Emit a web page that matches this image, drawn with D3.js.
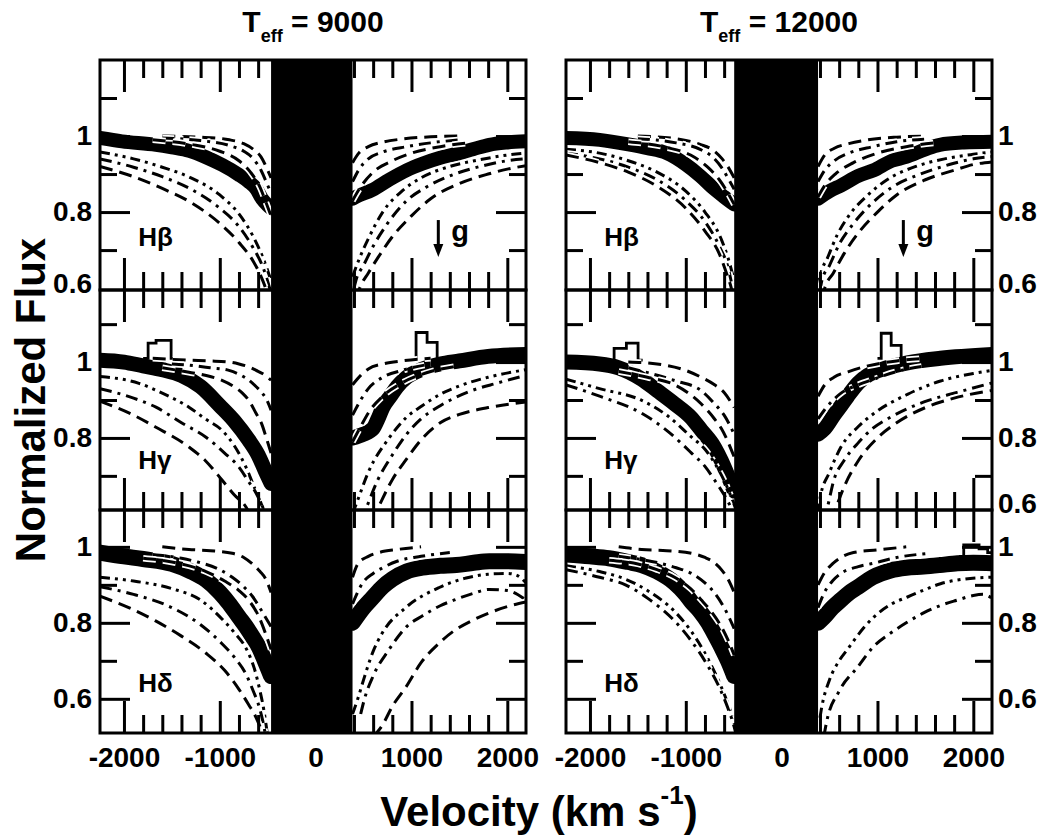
<!DOCTYPE html>
<html>
<head>
<meta charset="utf-8">
<script src="https://cdn.jsdelivr.net/npm/d3@7"></script>
<style>
  body { margin: 0; background: #fff; }
  text { font-family: "Liberation Sans", Arial, Helvetica, sans-serif; font-weight: bold; fill: #000; }
</style>
</head>
<body>
<svg id="fig" width="1051" height="837"></svg>
<script>
// ---------------------------------------------------------------
// Balmer line profiles (velocity vs normalized flux) for two
// effective temperatures; observed spectra (thick band) against a
// grid of model profiles of increasing surface gravity.
// ---------------------------------------------------------------

const temps = ["9000", "12000"];
const lineNames = ["Hβ", "Hγ", "Hδ"];
const velDomain = [-2250, 2195];
const fluxDomains = [[0.595, 1.2], [0.61, 1.19], [0.51, 1.097]];
const maskVel = [[-465, 385], [-495, 380]];   // line core, blanked
const gArrowVel = [1280, 1270];

const velLabels = [-2000, -1000, 0, 1000, 2000];
const velMajor = [-2000, -1000, 0, 1000, 2000];
const velMinor = [-1800, -1600, -1400, -1200, -800, -600, -400, -200, 200, 400, 600, 800, 1200, 1400, 1600, 1800];
const fluxMajor = [0.6, 0.8, 1.0];
const fluxMinor = [0.5, 0.7, 0.9, 1.1];
const fluxLabelsLeft = [[1, 0.8, 0.6], [1, 0.8], [1, 0.8, 0.6]];
const fluxLabelsRight = [[1, 0.8, 0.6], [1, 0.8, 0.6], [1, 0.8, 0.6]];

// ---- Teff = 9000 : H-beta ----
const obs9000HbL = [[-2250,0.995],[-2020,0.986],[-1665,0.977],[-1500,0.97],[-1320,0.961],[-1150,0.945],[-975,0.924],[-800,0.898],[-700,0.88],[-620,0.861],[-560,0.835],[-500,0.818],[-465,0.81]];
const obs9000HbR = [[385,0.835],[420,0.84],[590,0.858],[767,0.885],[950,0.91],[1112,0.927],[1300,0.943],[1467,0.953],[1650,0.966],[1812,0.977],[2000,0.983],[2195,0.986]];
const models9000HbL = [
  [[-1600,1.0],[-1200,0.997],[-900,0.99],[-750,0.98],[-650,0.965],[-570,0.945],[-500,0.91],[-465,0.89]],
  [[-1600,0.995],[-1200,0.988],[-900,0.975],[-750,0.96],[-650,0.94],[-570,0.91],[-500,0.87],[-465,0.85]],
  [[-1700,0.99],[-1300,0.978],[-1000,0.96],[-800,0.935],[-680,0.905],[-580,0.865],[-510,0.82],[-465,0.79]],
  [[-2250,0.958],[-1900,0.94],[-1600,0.918],[-1300,0.89],[-1000,0.845],[-800,0.795],[-650,0.735],[-550,0.68],[-465,0.62]],
  [[-2250,0.94],[-1900,0.918],[-1600,0.893],[-1300,0.86],[-1000,0.81],[-800,0.762],[-650,0.705],[-550,0.655],[-480,0.6],[-450,0.57]],
  [[-2250,0.92],[-1900,0.893],[-1600,0.862],[-1300,0.825],[-1000,0.77],[-800,0.72],[-650,0.67],[-560,0.625],[-510,0.59],[-480,0.56]]
];
const models9000HbR = [
  [[385,0.93],[450,0.955],[550,0.972],[700,0.984],[900,0.992],[1200,0.998],[1500,1.0]],
  [[385,0.88],[460,0.915],[550,0.94],[700,0.958],[950,0.972],[1200,0.982],[1500,0.99]],
  [[385,0.83],[480,0.87],[600,0.905],[800,0.935],[1000,0.955],[1300,0.972],[1600,0.982]],
  [[385,0.63],[460,0.68],[550,0.73],[700,0.80],[900,0.855],[1100,0.89],[1400,0.92],[1700,0.937],[2000,0.95],[2195,0.955]],
  [[400,0.6],[420,0.62],[500,0.66],[600,0.71],[750,0.77],[950,0.83],[1150,0.865],[1450,0.9],[1750,0.922],[2000,0.935],[2195,0.94]],
  [[420,0.57],[460,0.6],[550,0.64],[650,0.68],[800,0.735],[1000,0.79],[1200,0.835],[1500,0.875],[1800,0.9],[2000,0.913],[2195,0.922]]
];

// ---- Teff = 9000 : H-gamma ----
const obs9000HgL = [[-2250,1.005],[-2000,1.0],[-1800,0.99],[-1600,0.98],[-1400,0.965],[-1200,0.935],[-1000,0.885],[-850,0.845],[-700,0.795],[-600,0.755],[-520,0.71],[-465,0.68]];
const obs9000HgR = [[385,0.8],[500,0.81],[600,0.825],[650,0.85],[700,0.88],[780,0.91],[850,0.935],[950,0.96],[1100,0.98],[1300,0.995],[1500,1.003],[1800,1.015],[2195,1.02]];
const steps9000Hg = [
  [[-1800,1.01],[-1748,1.05],[-1665,1.057],[-1508,1.01],[-1450,1.01]],
  [[1000,1.01],[1048,1.078],[1163,1.052],[1268,1.01],[1320,1.01]]
];
const models9000HgL = [
  [[-1700,1.01],[-1322,1.005],[-1100,1.003],[-904,1.0],[-800,0.995],[-695,0.987],[-620,0.978],[-556,0.97],[-500,0.96],[-465,0.952]],
  [[-1500,0.995],[-1322,0.992],[-1100,0.985],[-904,0.978],[-800,0.968],[-695,0.952],[-620,0.935],[-556,0.918],[-500,0.895],[-465,0.873]],
  [[-1600,0.985],[-1322,0.973],[-1100,0.962],[-977,0.952],[-850,0.935],[-764,0.918],[-700,0.9],[-622,0.865],[-560,0.835],[-517,0.802],[-465,0.76]],
  [[-2250,0.962],[-1844,0.944],[-1600,0.918],[-1322,0.881],[-1150,0.85],[-977,0.82],[-850,0.78],[-727,0.723],[-640,0.67],[-556,0.618],[-520,0.59]],
  [[-2250,0.93],[-1900,0.905],[-1666,0.881],[-1400,0.84],[-1144,0.802],[-950,0.76],[-800,0.723],[-700,0.685],[-622,0.655],[-540,0.61],[-510,0.59]],
  [[-2250,0.897],[-1900,0.86],[-1666,0.828],[-1322,0.776],[-1150,0.74],[-977,0.689],[-850,0.65],[-727,0.618],[-650,0.58]]
];
const models9000HgR = [
  [[385,0.94],[470,0.965],[550,0.982],[700,0.995],[900,1.003],[1200,1.01]],
  [[385,0.86],[470,0.9],[550,0.93],[700,0.96],[900,0.978],[1200,0.995]],
  [[385,0.79],[470,0.83],[560,0.87],[700,0.91],[900,0.945],[1200,0.975],[1500,0.99]],
  [[385,0.6],[430,0.63],[550,0.71],[767,0.8],[950,0.855],[1112,0.885],[1300,0.915],[1500,0.937],[1800,0.96],[2195,0.98]],
  [[470,0.58],[520,0.61],[650,0.69],[800,0.755],[950,0.81],[1100,0.85],[1300,0.885],[1600,0.922],[1900,0.945],[2195,0.965]],
  [[580,0.58],[640,0.61],[800,0.69],[950,0.745],[1100,0.795],[1300,0.84],[1500,0.862],[1800,0.88],[2195,0.895]]
];

// ---- Teff = 9000 : H-delta ----
const obs9000HdL = [[-2250,0.985],[-2000,0.975],[-1800,0.968],[-1500,0.955],[-1300,0.935],[-1144,0.913],[-1000,0.88],[-900,0.85],[-800,0.815],[-727,0.79],[-650,0.76],[-590,0.735],[-530,0.7],[-465,0.66]];
const obs9000HdR = [[385,0.8],[500,0.84],[590,0.865],[700,0.895],[800,0.915],[950,0.935],[1112,0.945],[1300,0.95],[1467,0.952],[1650,0.958],[1812,0.962],[2000,0.962],[2195,0.96]];
const models9000HdL = [
  [[-1600,1.0],[-1322,0.993],[-1100,0.99],[-870,0.983],[-750,0.972],[-660,0.955],[-580,0.935],[-520,0.915],[-465,0.88]],
  [[-1700,0.98],[-1400,0.97],[-1230,0.96],[-1000,0.94],[-870,0.92],[-750,0.895],[-660,0.87],[-560,0.83],[-465,0.79]],
  [[-1800,0.97],[-1500,0.96],[-1144,0.935],[-950,0.91],[-800,0.885],[-700,0.86],[-590,0.815],[-520,0.77],[-465,0.73]],
  [[-2250,0.92],[-1900,0.91],[-1500,0.89],[-1200,0.86],[-977,0.81],[-850,0.775],[-720,0.73],[-640,0.68],[-580,0.62],[-540,0.57],[-500,0.5]],
  [[-2250,0.895],[-1900,0.875],[-1500,0.84],[-1200,0.795],[-977,0.745],[-850,0.71],[-727,0.665],[-650,0.62],[-590,0.58],[-550,0.54],[-520,0.5]],
  [[-2250,0.87],[-1950,0.84],[-1670,0.805],[-1400,0.765],[-1144,0.72],[-950,0.675],[-800,0.625],[-700,0.585],[-620,0.55],[-570,0.52],[-540,0.5]]
];
const models9000HdR = [
  [[385,0.92],[440,0.955],[550,0.975],[660,0.985],[850,0.993],[1100,1.0]],
  [[385,0.85],[490,0.905],[600,0.93],[700,0.945],[850,0.962],[1100,0.975],[1400,0.985]],
  null,
  [[385,0.56],[440,0.6],[500,0.65],[600,0.725],[695,0.773],[940,0.84],[1290,0.893],[1570,0.918],[1800,0.928],[2000,0.93],[2100,0.925],[2195,0.905]],
  [[470,0.56],[510,0.6],[600,0.66],[767,0.73],[950,0.79],[1112,0.818],[1300,0.845],[1467,0.862],[1650,0.878],[1812,0.888],[2000,0.885],[2195,0.86]],
  [[600,0.5],[695,0.53],[800,0.58],[940,0.63],[1100,0.695],[1290,0.747],[1450,0.78],[1640,0.807],[1800,0.825],[1990,0.842],[2195,0.855]]
];

// ---- Teff = 12000 : H-beta ----
const obs12000HbL = [[-2250,0.995],[-1900,0.99],[-1600,0.978],[-1400,0.968],[-1200,0.955],[-1000,0.925],[-850,0.895],[-700,0.86],[-600,0.84],[-495,0.82]];
const obs12000HbR = [[380,0.835],[500,0.855],[620,0.87],[800,0.895],[960,0.91],[1150,0.935],[1300,0.945],[1500,0.965],[1650,0.977],[1900,0.983],[2195,0.985]];
const models12000HbL = [
  [[-1500,1.0],[-1100,0.993],[-850,0.978],[-700,0.96],[-620,0.94],[-550,0.915],[-495,0.89]],
  [[-1500,0.993],[-1100,0.982],[-850,0.965],[-700,0.94],[-620,0.915],[-550,0.885],[-495,0.86]],
  [[-1600,0.985],[-1200,0.97],[-950,0.95],[-780,0.92],[-650,0.885],[-560,0.85],[-495,0.82]],
  [[-2250,0.965],[-1900,0.955],[-1600,0.935],[-1300,0.905],[-1000,0.855],[-800,0.8],[-650,0.74],[-560,0.68],[-495,0.62]],
  [[-2250,0.955],[-1900,0.94],[-1600,0.918],[-1300,0.885],[-1000,0.83],[-800,0.775],[-650,0.71],[-560,0.655],[-510,0.6],[-490,0.58]],
  [[-2250,0.95],[-1900,0.93],[-1600,0.905],[-1300,0.868],[-1000,0.81],[-800,0.75],[-650,0.69],[-570,0.635],[-525,0.6],[-500,0.57]]
];
const models12000HbR = [
  [[380,0.92],[450,0.95],[550,0.968],[700,0.98],[900,0.99],[1200,0.997],[1500,1.0]],
  [[380,0.88],[450,0.91],[550,0.935],[700,0.955],[950,0.972],[1200,0.985],[1500,0.992]],
  [[380,0.84],[450,0.87],[560,0.9],[750,0.93],[1000,0.955],[1300,0.972],[1600,0.982]],
  [[380,0.6],[400,0.63],[480,0.68],[580,0.74],[700,0.79],[900,0.845],[1100,0.885],[1400,0.92],[1700,0.94],[2000,0.952],[2195,0.958]],
  [[400,0.59],[420,0.62],[500,0.66],[600,0.715],[750,0.77],[950,0.825],[1150,0.865],[1450,0.9],[1750,0.925],[2000,0.94],[2195,0.946]],
  [[420,0.57],[450,0.6],[540,0.64],[650,0.69],[800,0.745],[1000,0.8],[1200,0.845],[1500,0.885],[1800,0.91],[2000,0.925],[2195,0.932]]
];

// ---- Teff = 12000 : H-gamma ----
const obs12000HgL = [[-2250,1.0],[-1900,0.995],[-1700,0.985],[-1460,0.955],[-1300,0.925],[-1117,0.89],[-950,0.855],[-837,0.82],[-700,0.775],[-629,0.74],[-560,0.7],[-495,0.66]];
const obs12000HgR = [[380,0.81],[450,0.825],[546,0.86],[620,0.885],[690,0.91],[800,0.945],[900,0.965],[1100,0.985],[1313,0.998],[1658,1.01],[2195,1.02]];
const steps12000Hg = [
  [[-1800,1.0],[-1748,1.036],[-1620,1.05],[-1498,1.005],[-1450,1.005]],
  [[1000,1.01],[1039,1.076],[1143,1.044],[1247,1.01],[1300,1.01]]
];
const models12000HgL = [
  [[-1600,1.0],[-1300,0.995],[-1000,0.978],[-840,0.96],[-700,0.94],[-600,0.92],[-495,0.88]],
  [[-1600,0.985],[-1370,0.97],[-1100,0.95],[-840,0.925],[-700,0.89],[-600,0.86],[-495,0.81]],
  [[-1700,0.975],[-1400,0.96],[-1117,0.94],[-840,0.89],[-700,0.85],[-629,0.825],[-495,0.75]],
  [[-2250,0.955],[-1900,0.93],[-1460,0.899],[-1200,0.86],[-940,0.802],[-800,0.77],[-700,0.734],[-556,0.663],[-494,0.623],[-450,0.59]],
  [[-2250,0.94],[-1900,0.91],[-1460,0.865],[-1200,0.82],[-940,0.76],[-800,0.725],[-700,0.689],[-600,0.65],[-525,0.615],[-480,0.59]],
  null
];
const models12000HgR = [
  [[380,0.91],[450,0.94],[546,0.96],[700,0.975],[900,0.99],[1200,1.003],[1500,1.01]],
  [[380,0.85],[450,0.875],[620,0.918],[800,0.94],[965,0.955],[1200,0.975],[1500,0.99]],
  null,
  [[380,0.6],[400,0.64],[500,0.71],[619,0.776],[800,0.83],[965,0.865],[1313,0.915],[1658,0.95],[2000,0.97],[2195,0.978]],
  [[430,0.58],[470,0.61],[546,0.69],[650,0.74],[792,0.785],[950,0.825],[1139,0.855],[1486,0.895],[1830,0.92],[2195,0.945]],
  [[520,0.58],[560,0.61],[650,0.67],[800,0.74],[1000,0.8],[1200,0.84],[1500,0.88],[1800,0.905],[2195,0.925]]
];

// ---- Teff = 12000 : H-delta ----
const obs12000HdL = [[-2250,0.98],[-2000,0.975],[-1804,0.97],[-1600,0.96],[-1460,0.952],[-1300,0.935],[-1117,0.905],[-1000,0.875],[-940,0.855],[-850,0.83],[-766,0.8],[-700,0.77],[-629,0.736],[-560,0.7],[-495,0.66]];
const obs12000HdR = [[380,0.8],[442,0.815],[530,0.84],[618,0.86],[700,0.878],[795,0.894],[950,0.92],[1138,0.938],[1300,0.945],[1481,0.948],[1650,0.952],[1835,0.957],[2000,0.958],[2195,0.957]];
const steps12000Hd = [
  [[1850,0.975],[1900,1.005],[2060,0.995],[2150,0.985],[2195,0.985]]
];
const models12000HdL = [
  [[-1700,1.0],[-1460,0.993],[-1200,0.99],[-940,0.983],[-800,0.972],[-700,0.958],[-629,0.94],[-560,0.915],[-495,0.88]],
  [[-1700,0.975],[-1500,0.968],[-1287,0.958],[-1100,0.945],[-940,0.93],[-800,0.905],[-698,0.878],[-600,0.84],[-495,0.785]],
  [[-1800,0.965],[-1500,0.955],[-1300,0.94],[-1117,0.92],[-950,0.89],[-837,0.86],[-720,0.825],[-629,0.79],[-560,0.755],[-495,0.715]],
  [[-2250,0.95],[-1900,0.935],[-1630,0.915],[-1400,0.885],[-1117,0.83],[-950,0.78],[-800,0.72],[-680,0.66],[-580,0.6],[-510,0.55],[-480,0.52]],
  [[-2250,0.94],[-1900,0.92],[-1630,0.9],[-1400,0.865],[-1117,0.805],[-950,0.755],[-766,0.685],[-650,0.63],[-560,0.575],[-495,0.526],[-470,0.5]],
  null
];
const models12000HdR = [
  [[380,0.9],[442,0.93],[530,0.955],[618,0.972],[750,0.985],[1000,0.992],[1300,1.0]],
  [[380,0.84],[442,0.878],[530,0.91],[618,0.93],[800,0.948],[961,0.957],[1200,0.972],[1500,0.982]],
  null,
  [[400,0.55],[420,0.58],[500,0.65],[600,0.7],[687,0.73],[850,0.785],[961,0.815],[1150,0.85],[1313,0.868],[1500,0.888],[1658,0.903],[1900,0.915],[2195,0.92]],
  [[440,0.5],[470,0.54],[600,0.62],[795,0.684],[950,0.735],[1138,0.773],[1300,0.8],[1481,0.826],[1650,0.845],[1835,0.86],[2000,0.872],[2100,0.875],[2195,0.865]],
  null
];

// ---- tables built from the arrays above ----
const panelObs = [
  [[obs9000HbL, obs9000HbR], [obs9000HgL, obs9000HgR], [obs9000HdL, obs9000HdR]],
  [[obs12000HbL, obs12000HbR], [obs12000HgL, obs12000HgR], [obs12000HdL, obs12000HdR]]
];
const panelModels = [
  [[models9000HbL, models9000HbR], [models9000HgL, models9000HgR], [models9000HdL, models9000HdR]],
  [[models12000HbL, models12000HbR], [models12000HgL, models12000HgR], [models12000HdL, models12000HdR]]
];
const panelSteps = [
  [[], steps9000Hg, []],
  [[], steps12000Hg, steps12000Hd]
];

// ---- layout & styles ----
const plotX = [[100, 526], [566, 992]];
const panelY = [[60, 290], [290, 510], [510, 733]];
const gridDash = ["13,7", "12,6,3,6", "13,7", "10,5,3,5,3,5", "12,6,3,6", "13,7"];
const obsWidth = [14, 15, 16];

const svg = d3.select("#fig");

plotX.forEach((xr, p) => {
  const x = d3.scaleLinear().domain(velDomain).range(xr);

  panelY.forEach((yr, k) => {
    const y = d3.scaleLinear().domain(fluxDomains[k]).range([yr[1], yr[0]]);
    const clipId = `clip-${p}-${k}`;
    svg.append("clipPath").attr("id", clipId)
      .append("rect").attr("x", xr[0]).attr("y", yr[0])
      .attr("width", xr[1] - xr[0]).attr("height", yr[1] - yr[0]);

    const g = svg.append("g").attr("clip-path", `url(#${clipId})`);
    const smooth = d3.line().x(d => x(d[0])).y(d => y(d[1])).curve(d3.curveMonotoneX);
    const stepped = d3.line().x(d => x(d[0])).y(d => y(d[1])).curve(d3.curveStepAfter);

    // observed spectra
    panelObs[p][k].forEach(arr => {
      g.append("path").attr("d", smooth(arr)).attr("fill", "none")
        .attr("stroke", "#000").attr("stroke-width", obsWidth[k])
        .attr("stroke-linejoin", "round").attr("stroke-linecap", "round");
    });
    panelSteps[p][k].forEach(arr => {
      g.append("path").attr("d", stepped(arr)).attr("fill", "none")
        .attr("stroke", "#000").attr("stroke-width", 2.8);
    });

    // model profiles (white halo keeps them readable over the data)
    panelModels[p][k].forEach(side => {
      side.forEach((arr, i) => {
        if (!arr) return;
        g.append("path").attr("d", smooth(arr)).attr("fill", "none")
          .attr("stroke", "#fff").attr("stroke-width", 6.5)
          .attr("stroke-dasharray", gridDash[i]);
        g.append("path").attr("d", smooth(arr)).attr("fill", "none")
          .attr("stroke", "#000").attr("stroke-width", 3)
          .attr("stroke-dasharray", gridDash[i]);
      });
    });
  });

  // blanked line core
  svg.append("rect")
    .attr("x", x(maskVel[p][0])).attr("y", panelY[0][0])
    .attr("width", x(maskVel[p][1]) - x(maskVel[p][0]))
    .attr("height", panelY[2][1] - panelY[0][0])
    .attr("fill", "#000");

  panelY.forEach((yr, k) => {
    const y = d3.scaleLinear().domain(fluxDomains[k]).range([yr[1], yr[0]]);
    const inY = v => v > fluxDomains[k][0] + 0.01 && v < fluxDomains[k][1] - 0.01;

    const tickAxis = (axisFn, scale, vals, size, tx, ty) => {
      const a = svg.append("g").attr("transform", `translate(${tx},${ty})`)
        .call(axisFn(scale).tickValues(vals).tickSize(-size).tickFormat(""));
      a.select(".domain").remove();
      a.selectAll("line").attr("stroke", "#000").attr("stroke-width", 3);
    };

    const fMaj = fluxMajor.filter(inY), fMin = fluxMinor.filter(inY);
    tickAxis(d3.axisLeft, y, fMaj, 30, xr[0], 0);
    tickAxis(d3.axisLeft, y, fMin, 17, xr[0], 0);
    tickAxis(d3.axisRight, y, fMaj, 30, xr[1], 0);
    tickAxis(d3.axisRight, y, fMin, 17, xr[1], 0);
    tickAxis(d3.axisTop, x, velMajor, 32, 0, yr[0]);
    tickAxis(d3.axisTop, x, velMinor, 18, 0, yr[0]);
    tickAxis(d3.axisBottom, x, velMajor, 32, 0, yr[1]);
    tickAxis(d3.axisBottom, x, velMinor, 18, 0, yr[1]);

    // frame
    svg.append("rect").attr("x", xr[0]).attr("y", yr[0])
      .attr("width", xr[1] - xr[0]).attr("height", yr[1] - yr[0])
      .attr("fill", "none").attr("stroke", "#000").attr("stroke-width", 3);

    // flux labels
    const labs = p === 0 ? fluxLabelsLeft[k] : fluxLabelsRight[k];
    const la = svg.append("g")
      .attr("transform", `translate(${p === 0 ? xr[0] : xr[1]},0)`)
      .call((p === 0 ? d3.axisLeft(y) : d3.axisRight(y))
        .tickValues(labs).tickSize(0).tickPadding(p === 0 ? 8 : 6)
        .tickFormat(d => String(d)));
    la.select(".domain").remove();
    la.attr("font-size", 28).attr("font-family", null);
    la.selectAll(".tick").attr("transform", d => `translate(0,${Math.min(y(d), yr[1] - 6)})`);
    la.selectAll("text").attr("font-weight", "bold");

    // line name
    svg.append("text").attr("x", x(-1850)).attr("y", y(k === 2 ? 0.618 : (k === 1 ? 0.718 : 0.711)))
      .attr("font-size", 26).text(lineNames[k]);

    if (k === 0) {
      // gravity arrow
      const ax = x(gArrowVel[p]);
      svg.append("line").attr("x1", ax).attr("x2", ax)
        .attr("y1", y(0.779)).attr("y2", y(0.712))
        .attr("stroke", "#000").attr("stroke-width", 3);
      svg.append("path")
        .attr("d", `M${ax - 5},${y(0.716)} L${ax + 5},${y(0.716)} L${ax},${y(0.682)} Z`)
        .attr("fill", "#000");
      svg.append("text").attr("x", ax + 13).attr("y", y(0.724))
        .attr("font-size", 29).text("g");
    }
  });

  // velocity labels
  const xa = svg.append("g").attr("transform", `translate(0,${panelY[2][1]})`)
    .call(d3.axisBottom(x).tickValues(velLabels).tickSize(0).tickPadding(14)
      .tickFormat(d => String(d)));
  xa.select(".domain").remove();
  xa.attr("font-size", 28).attr("font-family", null);
  xa.selectAll("text").attr("font-weight", "bold");

  // panel title
  const t = svg.append("text").attr("x", (xr[0] + xr[1]) / 2).attr("y", 32)
    .attr("text-anchor", "middle").attr("font-size", 30);
  t.append("tspan").text("T");
  t.append("tspan").attr("font-size", 18).attr("dy", 10).text("eff");
  t.append("tspan").attr("dy", -10).text(" = " + temps[p]);
});

// axis titles
svg.append("text").attr("transform", "translate(45,400) rotate(-90)")
  .attr("text-anchor", "middle").attr("font-size", 42).text("Normalized Flux");

const vt = svg.append("text").attr("x", 539).attr("y", 826)
  .attr("text-anchor", "middle").attr("font-size", 42);
vt.append("tspan").text("Velocity (km s");
vt.append("tspan").attr("font-size", 26).attr("dy", -22).text("-1");
vt.append("tspan").attr("dy", 22).text(")");
</script>
</body>
</html>
